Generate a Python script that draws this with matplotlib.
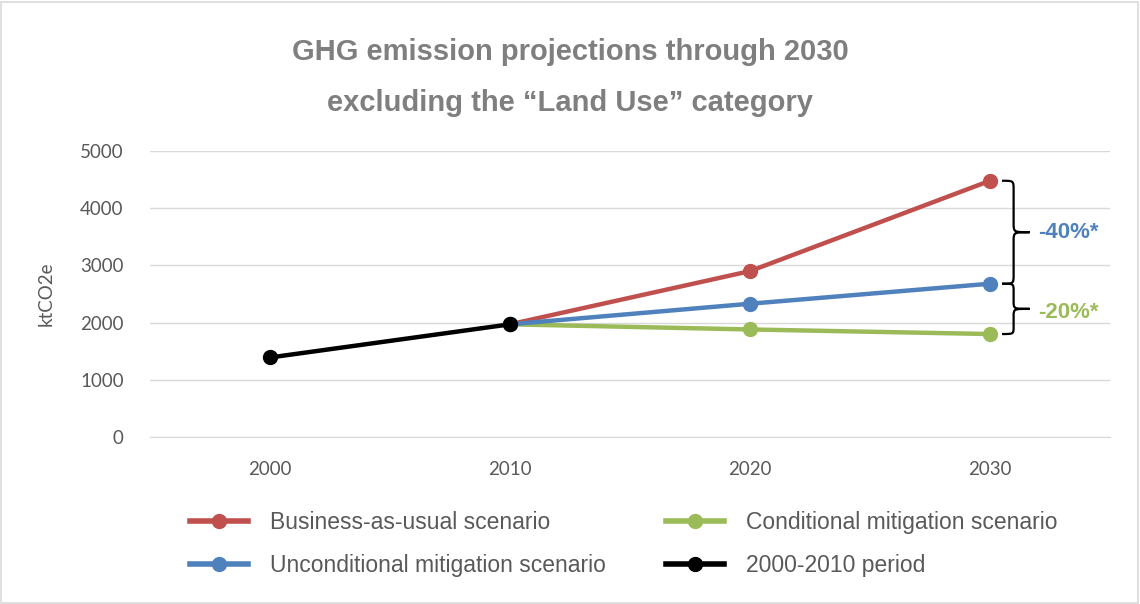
import matplotlib
matplotlib.use("Agg")
import matplotlib.pyplot as plt
from matplotlib.path import Path
from matplotlib.patches import PathPatch, Rectangle
from matplotlib.lines import Line2D

# --- data ---
years = ["2000", "2010", "2020", "2030"]
bau = [1970, 2900, 4480]            # 2010, 2020, 2030
unconditional = [1970, 2330, 2680]  # 2010, 2020, 2030
conditional = [1970, 1880, 1800]    # 2010, 2020, 2030
historic = [1390, 1970]             # 2000, 2010
yticks = [0, 1000, 2000, 3000, 4000, 5000]

RED = "#c0504d"
BLUE = "#4f81bd"
GREEN = "#9bbb59"
GREY_TXT = "#595959"


def brace(ax, x, y_top, y_bot, width, r):
    """Draw a right-pointing curly brace in data coords."""
    xl, xm, xt = x, x + width * 0.42, x + width
    ym = (y_top + y_bot) / 2
    verts = [
        (xl, y_top),
        (xm, y_top), (xm, y_top), (xm, y_top - r),
        (xm, ym + r),
        (xm, ym), (xm, ym), (xt, ym),
        (xm, ym), (xm, ym), (xm, ym - r),
        (xm, y_bot + r),
        (xm, y_bot), (xm, y_bot), (xl, y_bot),
    ]
    codes = [Path.MOVETO,
             Path.CURVE4, Path.CURVE4, Path.CURVE4,
             Path.LINETO,
             Path.CURVE4, Path.CURVE4, Path.CURVE4,
             Path.CURVE4, Path.CURVE4, Path.CURVE4,
             Path.LINETO,
             Path.CURVE4, Path.CURVE4, Path.CURVE4]
    ax.add_patch(PathPatch(Path(verts, codes), fill=False, lw=1.6,
                           edgecolor="black", clip_on=False, zorder=5))


fig = plt.figure(figsize=(11.4, 6.04), dpi=100)
ax = fig.add_axes([0.1316, 0.2765, 0.8421, 0.4735])

x_all = list(range(len(years)))
lkw = dict(lw=3.2, marker="o", markersize=10, solid_capstyle="round")
ax.plot(x_all[1:], bau, color=RED, zorder=3, **lkw)
ax.plot(x_all[1:], conditional, color=GREEN, zorder=3, **lkw)
ax.plot(x_all[1:], unconditional, color=BLUE, zorder=3, **lkw)
ax.plot(x_all[:2], historic, color="black", zorder=4, **lkw)

ax.set_xlim(-0.5, 3.5)
ax.set_ylim(0, 5000)
ax.set_yticks(yticks)
ax.set_xticks(x_all)
ax.set_xticklabels(years)
ax.yaxis.grid(True, color="#d9d9d9", lw=1)
ax.set_axisbelow(True)
for s in ["top", "right", "left"]:
    ax.spines[s].set_visible(False)
ax.spines["bottom"].set_color("#d9d9d9")
ax.tick_params(length=0, labelsize=13.5, labelcolor=GREY_TXT)
ax.tick_params(axis="y", pad=19)
ax.tick_params(axis="x", pad=17)
for lab in ax.get_xticklabels() + ax.get_yticklabels():
    lab.set_fontfamily("Lato")
ax.set_ylabel("ktCO2e", fontsize=13.5, color=GREY_TXT, fontfamily="Lato", labelpad=18)

# braces and reduction labels
brace(ax, 3.05, bau[-1], unconditional[-1], 0.115, 160)
brace(ax, 3.05, unconditional[-1], conditional[-1], 0.115, 130)
ax.text(3.2, (bau[-1] + unconditional[-1]) / 2, "-40%*", color=BLUE,
        fontsize=16, fontweight="bold", fontfamily="Liberation Sans",
        va="center", ha="left")
ax.text(3.2, (unconditional[-1] + conditional[-1]) / 2 - 60, "-20%*", color=GREEN,
        fontsize=16, fontweight="bold", fontfamily="Liberation Sans",
        va="center", ha="left")

# title
fig.text(0.5, 1 - 52 / 604, "GHG emission projections through 2030",
         ha="center", va="center", fontsize=21, fontweight="bold",
         color="#7f7f7f", fontfamily="Liberation Sans")
fig.text(0.5, 1 - 103 / 604, "excluding the \u201cLand Use\u201d category",
         ha="center", va="center", fontsize=21, fontweight="bold",
         color="#7f7f7f", fontfamily="Liberation Sans")

# legend
handles = [
    Line2D([], [], color=RED, lw=4, marker="o", markersize=10),
    Line2D([], [], color=BLUE, lw=4, marker="o", markersize=10),
    Line2D([], [], color=GREEN, lw=4, marker="o", markersize=10),
    Line2D([], [], color="black", lw=4, marker="o", markersize=10),
]
labels = ["Business-as-usual scenario", "Unconditional mitigation scenario",
          "Conditional mitigation scenario", "2000-2010 period"]
leg = fig.legend(handles, labels, ncol=2, loc="center",
                 bbox_to_anchor=(0.547, 1 - 544 / 604), frameon=False,
                 handlelength=2.55, handletextpad=0.95, columnspacing=2.6,
                 labelspacing=0.88, prop={"family": "Liberation Sans", "size": 16.5})
for t in leg.get_texts():
    t.set_color(GREY_TXT)

# figure border
fig.patches.append(Rectangle((0.001, 0.002), 0.997, 0.995, transform=fig.transFigure,
                             fill=False, edgecolor="#d9d9d9", lw=1.2))

fig.savefig("out.png", dpi=100)
